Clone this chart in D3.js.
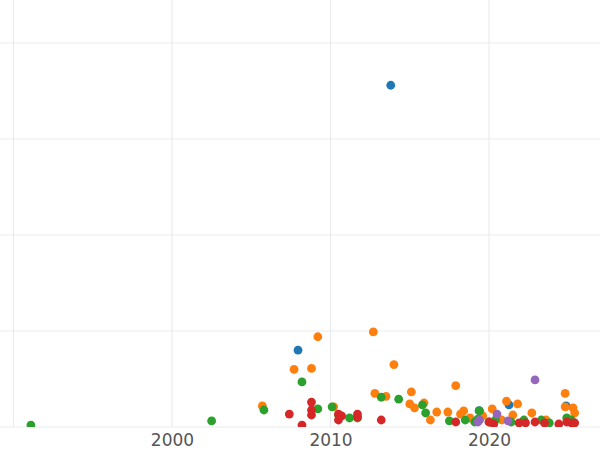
<!DOCTYPE html>
<html><head><meta charset="utf-8">
<script src="https://cdn.jsdelivr.net/npm/d3@7"></script>
<style>body{margin:0;background:#fff}</style></head>
<body><svg id="c" width="600" height="450"></svg>
<script>
// [year, value] per series
var blue = [[2013.8,356],[2007.95,80],[2024.86,22],[2021.26,23],[2019.37,17]];
var orange = [[2009.2,94],[2012.7,99],[2007.7,60],[2008.8,61],[2014.0,65],[2017.9,43],[2012.8,35],[2013.5,32],
  [2015.1,36.5],[2005.7,22],[2010.2,21],[2015.0,24],[2015.3,20],[2015.9,25],[2016.7,15.6],[2017.4,15.6],
  [2018.2,13.5],[2018.4,16.7],[2018.8,9.4],[2020.2,18.8],[2021.1,27],[2021.8,24],[2021.5,12.5],[2022.7,14.6],
  [2023.6,7.3],[2024.8,35],[2024.8,21],[2025.3,20],[2025.4,14.6],[2016.3,7.3],[2019.6,11.5],[2020.8,7.3]];
var green = [[1991.1,2],[2002.5,6.3],[2008.2,47],[2005.8,17.7],[2009.2,18.8],[2010.1,21],[2013.2,31],[2014.3,29],
  [2015.8,23],[2016.0,14.6],[2017.5,6.3],[2018.5,7.3],[2019.4,16.7],[2019.3,8.3],[2019.1,5.2],[2020.0,5.2],
  [2020.4,7.3],[2021.4,5.2],[2022.2,7.3],[2023.3,7.3],[2023.8,4.2],[2024.9,9.4],[2025.2,7.3],[2011.2,9.4],
  [2011.7,9.4],[2010.5,12.5]];
var red = [[2007.4,13.5],[2008.2,2],[2008.8,26],[2008.8,17.7],[2008.8,12.5],[2010.5,13.5],[2010.7,11.5],
  [2010.5,7.3],[2011.7,13.5],[2011.7,10.4],[2013.2,7.3],[2017.9,5.2],[2020.0,5.2],[2020.3,3.1],[2021.9,4.2],
  [2022.3,4.2],[2022.9,5.2],[2023.5,4.2],[2024.4,3.1],[2024.9,5.2],[2025.2,4.2],[2025.4,4.2]];
var purple = [[2022.9,49],[2020.5,13.5],[2019.4,7.3],[2021.2,6.3],[2019.3,5.2]];
var xTicks = [1990, 2000, 2010, 2020];
var yTicks = [0, 100, 200, 300, 400];

var svg = d3.select('#c');
var x = d3.scaleLinear().domain([1989.15, 2027.0]).range([0, 600]);
var y = d3.scaleLinear().domain([0, 444.8]).range([427, 0]);

var g = svg.append('g');
g.selectAll('.gy').data(yTicks).enter().append('line')
  .attr('x1', 0).attr('x2', 600).attr('y1', y).attr('y2', y)
  .attr('stroke', '#ebebeb').attr('stroke-width', 1.2);
g.selectAll('.gx').data(xTicks).enter().append('line')
  .attr('x1', x).attr('x2', x).attr('y1', 0).attr('y2', 427)
  .attr('stroke', '#ebebeb').attr('stroke-width', 1.2);

svg.append('clipPath').attr('id', 'pc').append('rect')
  .attr('x', 0).attr('y', 0).attr('width', 600).attr('height', 427);
var pts = svg.append('g').attr('clip-path', 'url(#pc)');
[[blue,'#1f77b4'],[orange,'#ff7f0e'],[green,'#2ca02c'],[red,'#d62728'],[purple,'#9467bd']].forEach(function(s){
  pts.selectAll(null).data(s[0]).enter().append('circle')
    .attr('cx', function(d){return x(d[0]);})
    .attr('cy', function(d){return y(d[1]);})
    .attr('r', 4.4).attr('fill', s[1]);
});

svg.append('g').attr('transform', 'translate(0,427)')
  .call(d3.axisBottom(x).tickValues(xTicks.slice(1)).tickFormat(d3.format('d')).tickSize(0).tickPadding(7))
  .call(function(a){a.select('.domain').remove();})
  .selectAll('text').attr('font-family', 'DejaVu Sans, sans-serif').attr('font-size', 17).attr('fill', '#555');
</script></body></html>
